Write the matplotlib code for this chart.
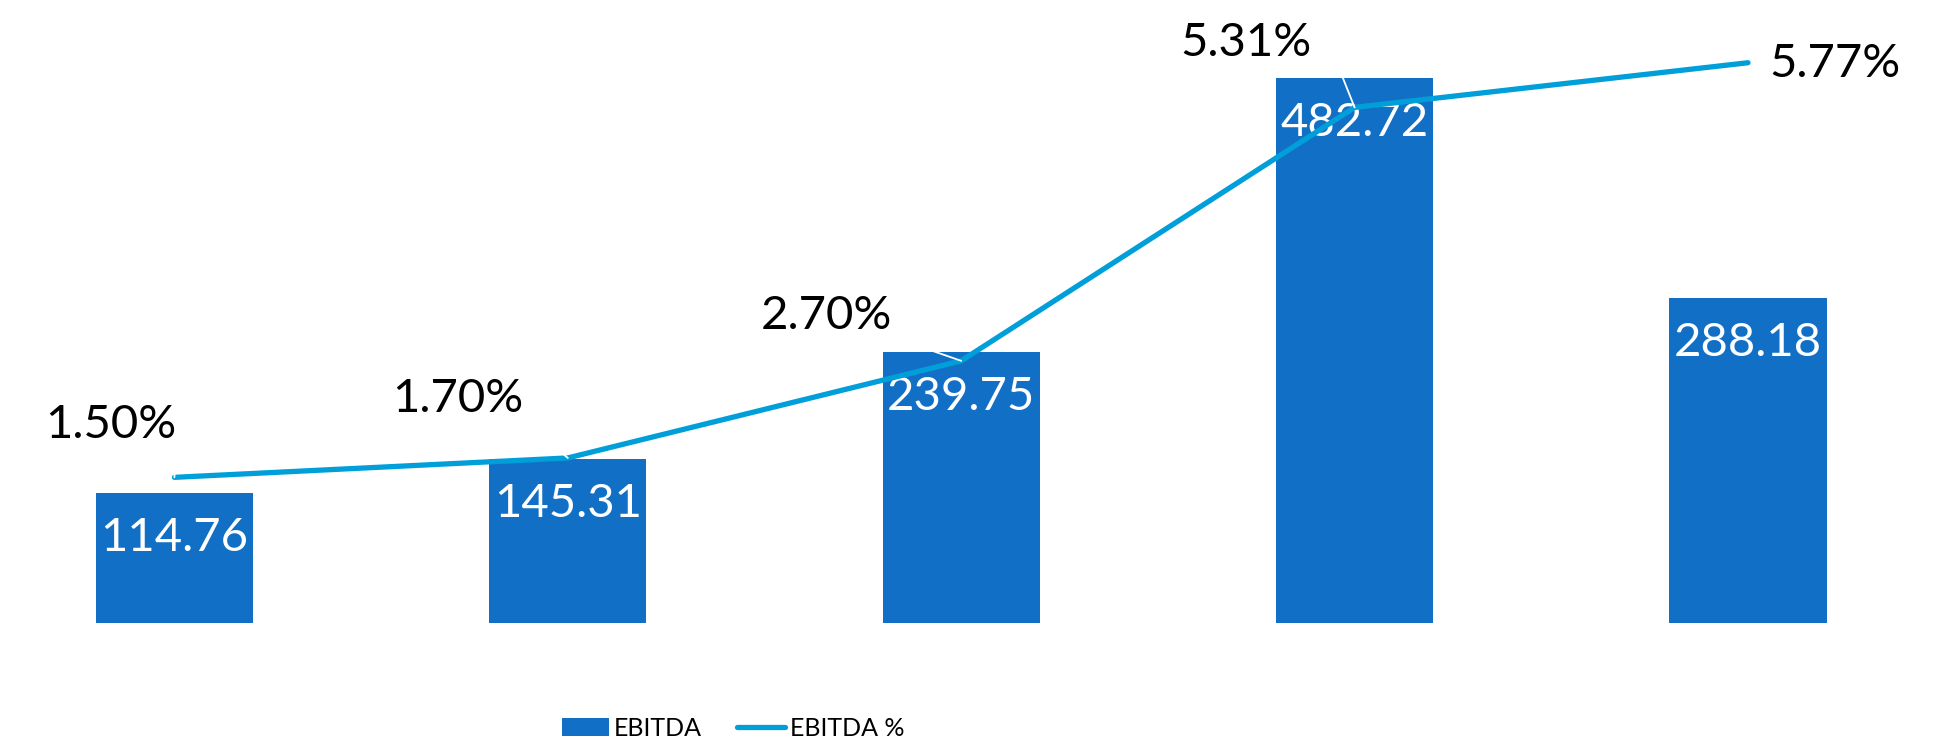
import matplotlib
matplotlib.use('Agg')
import matplotlib.pyplot as plt
import numpy as np

plt.rcParams['font.family'] = ['Lato', 'DejaVu Sans']

# data
periods = ['P1', 'P2', 'P3', 'P4', 'P5']
ebitda = [114.76, 145.31, 239.75, 482.72, 288.18]
ebitda_pct = [1.50, 1.70, 2.70, 5.31, 5.77]
pct_labels = ['1.50%', '1.70%', '2.70%', '5.31%', '5.77%']

bar_color = '#1170C6'
line_color = '#009FDA'

# label offsets in pixels (dx, dy) from each line point
pct_offsets = [(-64, 52), (-110, 59), (-135, 45), (-109, 64), (87, -1)]
leader_rel = [(1.0, 0.0), (1.0, 0.0), (1.0, 0.0), (1.2, 0.0), None]

fig = plt.figure(figsize=(19.46, 7.44), dpi=100)
ax = fig.add_axes([0, 1 - 623 / 744, 1, 623 / 744])
ax2 = ax.twinx()

x = np.arange(len(periods))
bars = ax.bar(x, ebitda, width=0.4, color=bar_color, label='EBITDA', zorder=2)
ax.set_xlim(-174.4 / 393.4, (1946 - 174.4) / 393.4)
ax.set_ylim(0, 623 / 1.129)
ax2.set_ylim(0, 623 / 97.1)

for xi, v in zip(x, ebitda):
    ax.annotate('{:.2f}'.format(v), xy=(xi, v), xytext=(0, -45),
                textcoords='offset pixels', ha='center', va='center',
                color='white', fontsize=34, zorder=5)

line, = ax2.plot(x, ebitda_pct, color=line_color, lw=3.8,
                 solid_capstyle='round', label='EBITDA %', zorder=3)

for xi, v, lab, (dx, dy), rel in zip(x, ebitda_pct, pct_labels, pct_offsets, leader_rel):
    props = None
    if rel is not None:
        props = dict(arrowstyle='-', color='white', lw=1.3,
                     shrinkA=0, shrinkB=0, relpos=rel)
    ax2.annotate(lab, xy=(xi, v), xytext=(dx, dy), textcoords='offset pixels',
                 ha='center', va='center', color='black', fontsize=34,
                 arrowprops=props, zorder=4)

for a in (ax, ax2):
    for s in a.spines.values():
        s.set_visible(False)
    a.set_xticks([])
    a.set_yticks([])
ax.set_zorder(1)
ax2.set_zorder(2)
ax2.patch.set_visible(False)

fig.legend([bars, line], ['EBITDA', 'EBITDA %'], loc='center',
           bbox_to_anchor=(733 / 1946, 1 - 728 / 744), ncol=2, frameon=False,
           fontsize=18, handlelength=1.9, handleheight=0.7, columnspacing=1.4,
           handletextpad=0.2)

fig.savefig('out.png', dpi=100)
